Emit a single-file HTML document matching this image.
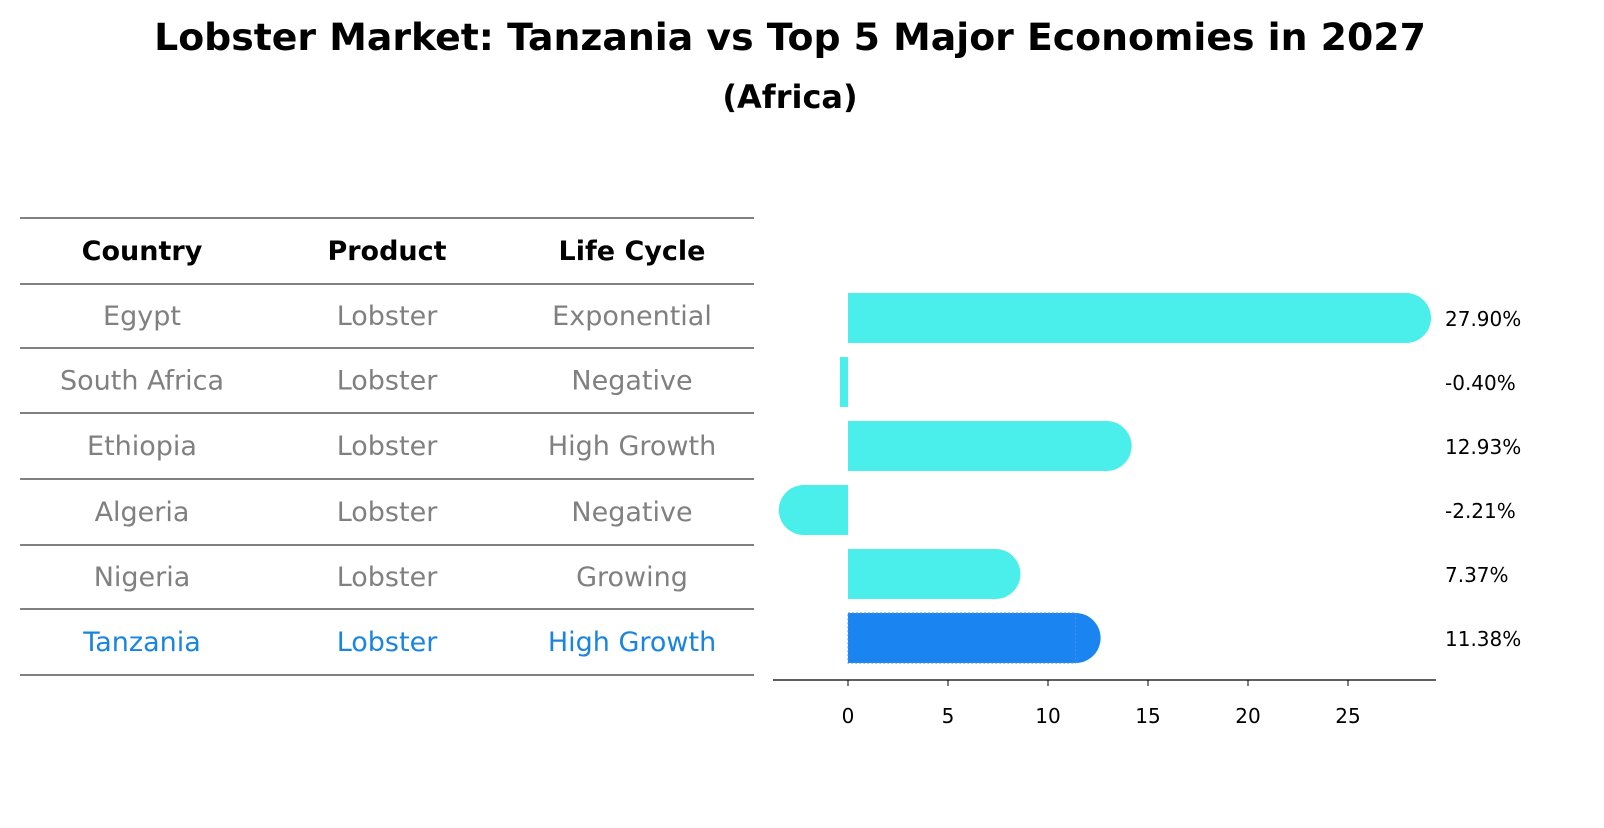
<!DOCTYPE html>
<html><head><meta charset="utf-8"><style>
body{margin:0;background:#fff;font-family:"Liberation Sans","DejaVu Sans",sans-serif;}
</style></head><body>
<svg width="1604" height="823" xmlns="http://www.w3.org/2000/svg" font-family="DejaVu Sans, Liberation Sans, sans-serif">
<text x="790" y="50" text-anchor="middle" font-size="37.8" font-weight="bold">Lobster Market: Tanzania vs Top 5 Major Economies in 2027</text>
<text x="790" y="108" text-anchor="middle" font-size="32" font-weight="bold">(Africa)</text>
<g id="table"></g>
<g id="bars"></g>
</svg>
<script>
const countries=["Egypt","South Africa","Ethiopia","Algeria","Nigeria","Tanzania"];
const products=["Lobster","Lobster","Lobster","Lobster","Lobster","Lobster"];
const lifeCycles=["Exponential","Negative","High Growth","Negative","Growing","High Growth"];
const growth=[27.90,-0.40,12.93,-2.21,7.37,11.38];
const ticks=[0,5,10,15,20,25];
const NS="http://www.w3.org/2000/svg";
function mk(tag,attrs,parent,text){const e=document.createElementNS(NS,tag);for(const k in attrs)e.setAttribute(k,attrs[k]);if(text!==undefined)e.textContent=text;parent.appendChild(e);return e;}
const tbl=document.getElementById('table');
const lines=[218,284,348,413,479,545,609,675];
const cols=[142,387,632];
lines.forEach(y=>{const l=mk('line',{x1:20,x2:754,y1:y,y2:y,stroke:'#000','stroke-width':1},tbl);

});
["Country","Product","Life Cycle"].forEach((h,i)=>{const t=mk('text',{x:cols[i],y:260,'text-anchor':'middle','font-size':27,'font-weight':'bold'},tbl,h);

});
const rowY=i=>(lines[i+1]+lines[i+2])/2+9;
countries.forEach((c,i)=>{const col=c==="Tanzania"?"#1a85e0":"#808080";
[c,products[i],lifeCycles[i]].forEach((v,j)=>{const t=mk('text',{x:cols[j],y:rowY(i),'text-anchor':'middle','font-size':27,fill:col},tbl,v);

});});
const bars=document.getElementById('bars');
const x=v=>848+v*20;
const yc=i=>318+i*64;
const H=50;
mk('line',{x1:773,x2:1436,y1:680,y2:680,stroke:'#000','stroke-width':1.2},bars);
ticks.forEach(t=>{mk('line',{x1:x(t),x2:x(t),y1:680,y2:686,stroke:'#000'},bars);
const lb=mk('text',{x:x(t),y:723,'text-anchor':'middle','font-size':20},bars,t);

});
growth.forEach((v,i)=>{const tz=countries[i]==="Tanzania";const col=tz?"#1a85f0":"#4aeeea";
const g=mk('g',{},bars);


const x0=Math.min(x(0),x(v)),w=Math.abs(x(v)-x(0));const y=yc(i);
mk('rect',{x:x0,y:y-H/2,width:w,height:H,fill:col},g);
if(Math.abs(v)>1){mk('circle',{cx:x(v),cy:y,r:H/2,fill:col},g);}
if(tz){mk('rect',{x:x0,y:y-H/2,width:w,height:H,fill:'none',stroke:'#4a90e2','stroke-dasharray':'2,2'},g);}
const lb=mk('text',{x:1445,y:y+8,'font-size':20},bars,v.toFixed(2)+'%');

});
</script>
</body></html>
